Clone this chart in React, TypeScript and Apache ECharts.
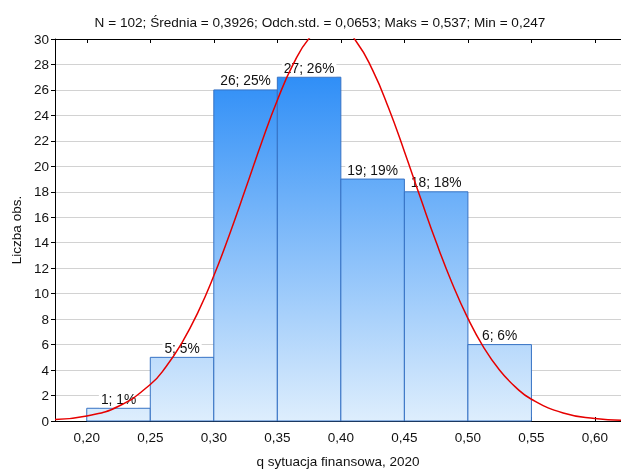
import React, { useEffect, useRef } from "react";
import * as echarts from "echarts";

const binStarts = [0.2, 0.25, 0.3, 0.35, 0.4, 0.45, 0.5];
const binEnds = [0.25, 0.3, 0.35, 0.4, 0.45, 0.5, 0.55];
const counts = [1, 5, 26, 27, 19, 18, 6];
const percents = [1, 5, 25, 26, 19, 18, 6];
const xTicks = [0.2, 0.25, 0.3, 0.35, 0.4, 0.45, 0.5, 0.55, 0.6];

// fitted normal curve
const curveX = [
  0.175, 0.2, 0.225, 0.25, 0.2625, 0.275, 0.2875, 0.3, 0.3125, 0.325, 0.3375, 0.35,
  0.3625, 0.375, 0.3875, 0.4, 0.4125, 0.425, 0.4375, 0.45, 0.4625, 0.475, 0.4875, 0.5,
  0.5125, 0.525, 0.5375, 0.55, 0.575, 0.6, 0.625,
];
const curveY = [
  0.12, 0.4, 1.16, 2.87, 4.28, 6.16, 8.53, 11.4, 14.69, 18.23, 21.83, 25.19,
  28.02, 30.05, 31.07, 30.96, 29.75, 27.55, 24.6, 21.17, 17.57, 14.05, 10.84, 8.06,
  5.77, 3.99, 2.66, 1.71, 0.63, 0.2, 0.055,
];

const titleText =
  "N = 102; Średnia = 0,3926; Odch.std. = 0,0653; Maks = 0,537; Min = 0,247";
const xName = "q sytuacja finansowa, 2020";
const yName = "Liczba obs.";

const FONT = '"Liberation Sans", Arial, sans-serif';

export default function App() {
  const ref = useRef<HTMLDivElement>(null);
  useEffect(() => {
    if (!ref.current) return;
    const chart = echarts.init(ref.current, null, { renderer: "svg" });
    const histData = binStarts.map((s, i) => [s, binEnds[i], counts[i], percents[i]]);
    const lineData = curveX.map((x, i) => [x, curveY[i]]);
    const fmt = (v: number) => v.toFixed(2).replace(".", ",");
    chart.setOption({
      animation: false,
      textStyle: { fontFamily: FONT },
      title: {
        text: titleText,
        left: 315,
        top: 10,
        textAlign: "center",
        textStyle: { fontSize: 13.6, fontWeight: "normal", color: "#111", fontFamily: FONT },
      },
      grid: { left: 55, right: 0, top: 39, bottom: 51 },
      xAxis: [
        {
          type: "value",
          min: 0.175,
          max: 0.6205,
          position: "bottom",
          name: xName,
          nameLocation: "middle",
          nameGap: 33,
          nameTextStyle: { fontSize: 13.5, color: "#111", fontFamily: FONT },
          axisLine: { show: true, lineStyle: { color: "#000", width: 1 } },
          axisTick: { show: true, inside: true, length: 4, customValues: xTicks, lineStyle: { color: "#000" } },
          axisLabel: {
            customValues: xTicks,
            formatter: (v: number) => fmt(v),
            fontSize: 13.5,
            color: "#111",
            margin: 9,
            fontFamily: FONT,
          },
          splitLine: { show: false },
        },
        {
          type: "value",
          min: 0.175,
          max: 0.6205,
          position: "top",
          axisLine: { show: true, lineStyle: { color: "#000", width: 1 } },
          axisTick: { show: true, inside: true, length: 4, customValues: xTicks, lineStyle: { color: "#000" } },
          axisLabel: { show: false },
          splitLine: { show: false },
        },
      ],
      yAxis: {
        type: "value",
        min: 0,
        max: 30,
        interval: 2,
        name: yName,
        nameLocation: "middle",
        nameGap: 32,
        nameTextStyle: { fontSize: 13.5, color: "#111", fontFamily: FONT },
        axisLine: { show: true, lineStyle: { color: "#000", width: 1 } },
        axisTick: { show: true, inside: false, length: 4, lineStyle: { color: "#000" } },
        axisLabel: { fontSize: 13.5, color: "#111", margin: 6, fontFamily: FONT },
        splitLine: { show: true, lineStyle: { color: "#d2d2d2", width: 1 } },
      },
      series: [
        {
          type: "custom",
          xAxisIndex: 0,
          yAxisIndex: 0,
          encode: { x: [0, 1], y: 2 },
          data: histData,
          z: 2,
          renderItem: (params: any, api: any) => {
            const x0 = api.value(0);
            const x1 = api.value(1);
            const c = api.value(2);
            const p = api.value(3);
            const tl = api.coord([x0, c]);
            const br = api.coord([x1, 0]);
            const topPx = api.coord([x0, 30])[1];
            const fill = new echarts.graphic.LinearGradient(
              0,
              topPx,
              0,
              br[1],
              [
                { offset: 0, color: "#1c84f6" },
                { offset: 1, color: "#deeefd" },
              ],
              true
            );
            return {
              type: "group",
              children: [
                {
                  type: "rect",
                  shape: { x: tl[0], y: tl[1], width: br[0] - tl[0], height: br[1] - tl[1] },
                  style: { fill, stroke: "#3672c4", lineWidth: 1 },
                },
                {
                  type: "text",
                  x: (tl[0] + br[0]) / 2,
                  y: tl[1] - 1,
                  style: {
                    text: `${c}; ${p}%`,
                    align: "center",
                    verticalAlign: "bottom",
                    fill: "#111",
                    fontSize: 13.8,
                    fontFamily: FONT,
                    backgroundColor: "#fff",
                    padding: [1, 2, 1, 2],
                  },
                },
              ],
            };
          },
        },
        {
          type: "line",
          xAxisIndex: 0,
          yAxisIndex: 0,
          data: lineData,
          smooth: true,
          showSymbol: false,
          clip: true,
          z: 3,
          lineStyle: { color: "#e60000", width: 1.5 },
        },
      ],
    });
    return () => chart.dispose();
  }, []);
  return <div ref={ref} style={{ width: 621, height: 473, position: "fixed", left: 0, top: 0 }} />;
}
